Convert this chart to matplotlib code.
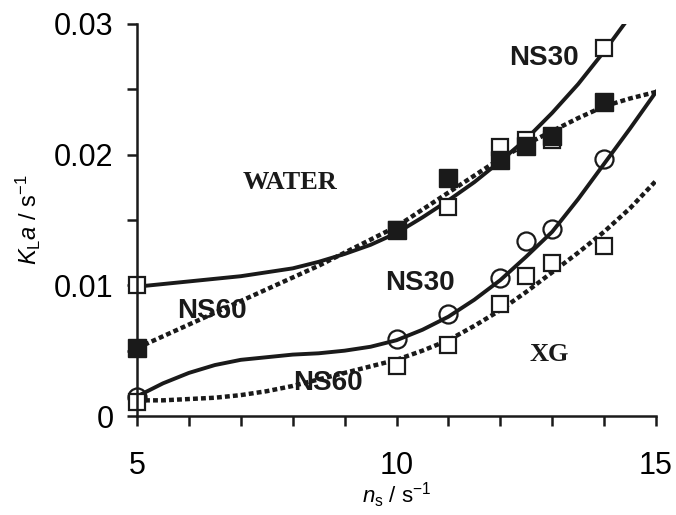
import numpy as np
import matplotlib.pyplot as plt

plt.rcParams['font.family'] = 'Liberation Sans'
plt.rcParams['mathtext.fontset'] = 'custom'
plt.rcParams['mathtext.rm'] = 'Liberation Sans'
plt.rcParams['mathtext.it'] = 'Liberation Sans:italic'

# measured points: stirrer speed n_s (1/s) and KLa (1/s)
ns = [5, 10, 11, 12, 12.5, 13, 14]
water_ns30 = [0.0100, 0.0142, 0.0160, 0.0206, 0.0211, 0.0211, 0.0282]
water_ns60 = [0.0052, 0.0142, 0.0182, 0.0196, 0.0207, 0.0214, 0.0240]
xg_ns30 = [0.00145, 0.0059, 0.0078, 0.0106, 0.0134, 0.0143, 0.0197]
xg_ns60 = [0.0011, 0.0038, 0.0054, 0.0086, 0.0107, 0.0117, 0.0130]

# trend lines
fit_x = [5, 5.5, 6, 6.5, 7, 7.5, 8, 8.5, 9, 9.5, 10, 10.5, 11, 11.5, 12,
         12.5, 13, 13.5, 14, 14.5, 15]
water_ns30_fit = [0.0099, 0.0101, 0.0103, 0.0105, 0.0107, 0.0110, 0.0113, 0.0118,
                  0.0124, 0.0131, 0.0140, 0.0152, 0.0165, 0.0179, 0.0195, 0.0212,
                  0.0232, 0.0254, 0.0279, 0.0306, 0.0335]
water_ns60_fit = [0.0052, 0.0061, 0.0070, 0.0079, 0.0088, 0.0097, 0.0106, 0.0115,
                  0.0125, 0.0135, 0.0145, 0.0158, 0.0171, 0.0184, 0.0197, 0.0208,
                  0.0218, 0.0228, 0.0237, 0.0243, 0.0248]
xg_ns30_fit = [0.0015, 0.0025, 0.0033, 0.0039, 0.0043, 0.0045, 0.0047, 0.0048,
               0.0050, 0.0053, 0.0058, 0.0066, 0.0076, 0.0089, 0.0104, 0.0122,
               0.0141, 0.0166, 0.0193, 0.0220, 0.0248]
xg_ns60_fit = [0.0012, 0.0012, 0.0013, 0.0014, 0.0016, 0.0019, 0.0023, 0.0028,
               0.0033, 0.0038, 0.0043, 0.0050, 0.0058, 0.0069, 0.0081, 0.0095,
               0.0110, 0.0125, 0.0141, 0.0159, 0.0180]

xticks = [5, 10, 15]
yticks = [0, 0.01, 0.02, 0.03]
ylabels = ['0', '0.01', '0.02', '0.03']

fig = plt.figure(figsize=(6.76, 5.15), dpi=100)
ax = fig.add_axes([0.2027, 0.1922, 0.7677, 0.7612])

k = '#1a1a1a'
dot = (0, (1.1, 0.7))

ax.plot(fit_x, water_ns30_fit, color=k, lw=2.8)
ax.plot(ns, water_ns30, 's', ms=12, mfc='white', mec=k, mew=1.6, clip_on=False)
ax.plot(fit_x, water_ns60_fit, color=k, lw=3.2, ls=dot)
ax.plot(ns, water_ns60, 's', ms=13, mfc=k, mec=k, clip_on=False)
ax.plot(fit_x, xg_ns30_fit, color=k, lw=2.8)
ax.plot(ns, xg_ns30, 'o', ms=13, mfc='none', mec=k, mew=1.6, clip_on=False)
ax.plot(fit_x, xg_ns60_fit, color=k, lw=3.2, ls=dot)
ax.plot(ns, xg_ns60, 's', ms=12, mfc='white', mec=k, mew=1.6, clip_on=False)

bold_sans = dict(fontsize=20, fontweight='bold', color=k, ha='center', va='center')
bold_serif = dict(fontsize=19, fontweight='bold', family='Liberation Serif',
                  color=k, ha='center', va='center')
ax.text(7.95, 0.0179, 'WATER', **bold_serif)
ax.text(12.94, 0.0047, 'XG', **bold_serif)
ax.text(6.45, 0.0080, 'NS60', **bold_sans)
ax.text(8.68, 0.0025, 'NS60', **bold_sans)
ax.text(12.84, 0.0274, 'NS30', **bold_sans)
ax.text(10.45, 0.0102, 'NS30', **bold_sans)

ax.set_xlim(5, 15)
ax.set_ylim(0, 0.03)
ax.set_xticks(xticks)
ax.set_xticks(np.arange(5, 16, 1), minor=True)
ax.set_yticks(yticks)
ax.set_yticklabels(ylabels)
ax.set_yticks(np.arange(0, 0.031, 0.005), minor=True)
ax.tick_params(which='both', direction='out', length=7, width=1.8, color=k)
ax.tick_params(axis='x', labelsize=22, pad=18)
ax.tick_params(axis='y', labelsize=22, pad=10)
for s in ['top', 'right']:
    ax.spines[s].set_visible(False)
for s in ['left', 'bottom']:
    ax.spines[s].set_linewidth(1.8)
    ax.spines[s].set_color(k)

ax.set_xlabel(r'$n_{\rm s}$ / s$^{-1}$', fontsize=16, labelpad=0)
ax.set_ylabel(r'$K_{\rm L}a$ / s$^{-1}$', fontsize=17, labelpad=8)

fig.savefig('out.png', dpi=100)
